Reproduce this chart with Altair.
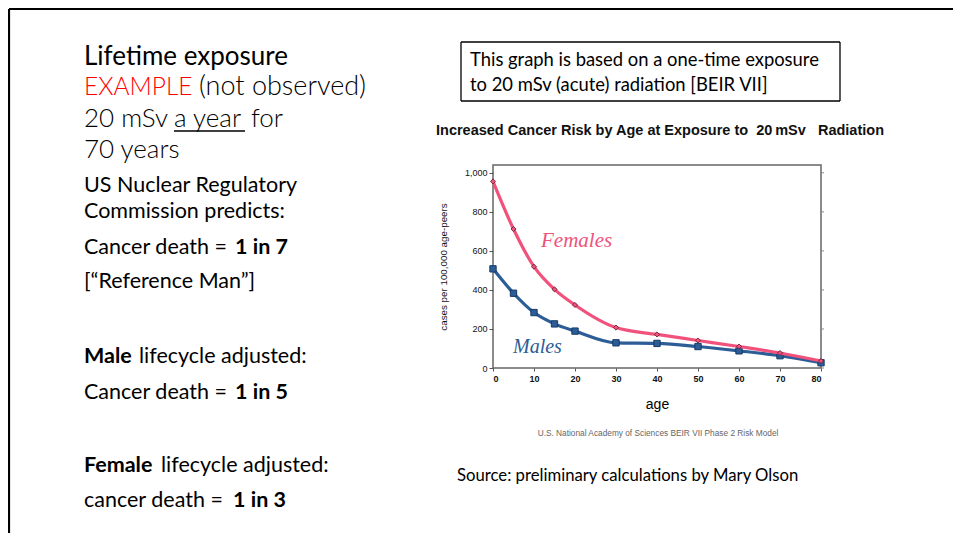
import altair as alt
import pandas as pd

# ---- data ----
ages = [0, 5, 10, 15, 20, 30, 40, 50, 60, 70, 80]
females = [956, 712, 519, 403, 323, 207, 172, 141, 110, 77, 36]
males = [508, 383, 284, 226, 189, 129, 126, 110, 88, 63, 27]
series_names = ["Females", "Males"]
series_colors = ["#f0527c", "#2c5d96"]
y_ticks = [0, 200, 400, 600, 800, 1000]
x_ticks = [0, 10, 20, 30, 40, 50, 60, 70, 80]

rows = []
for a, f, m in zip(ages, females, males):
    rows.append({"series": "Females", "age": a, "value": f})
    rows.append({"series": "Males", "age": a, "value": m})
df = pd.DataFrame(rows)
tick_df = pd.DataFrame({"value": y_ticks})

# plot area placement in page pixels
OX, OY = 493, 165
W, H = 328, 203


def px(X):
    return X - OX


def py(Y):
    return Y - OY


one = alt.Data(values=[{}])

yscale = alt.Scale(domain=[0, 1040], nice=False)
xs = alt.X("age:Q", scale=alt.Scale(domain=[0, 80], nice=False, zero=True),
           axis=alt.Axis(values=x_ticks, title="age", labelFontWeight="bold",
                         labelFontSize=9, labelFont="Liberation Sans",
                         titleFont="Liberation Sans", titleFontSize=14,
                         titleFontWeight="normal", titlePadding=14,
                         tickSize=3, labelPadding=3, domain=False,
                         grid=False, labelColor="#111", tickColor="#555"))
ys = alt.Y("value:Q", scale=yscale,
           axis=alt.Axis(values=y_ticks, format=",.0f", title="cases per 100,000 age-peers",
                         labelFontSize=9, labelFont="Liberation Sans",
                         titleFont="Liberation Sans", titleFontSize=9.8,
                         titleFontWeight="normal", titlePadding=16,
                         tickSize=4, labelPadding=2, domain=False, grid=False,
                         labelColor="#111", tickColor="#555", titleColor="#111"))
color = alt.Color("series:N", scale=alt.Scale(domain=series_names, range=series_colors),
                  legend=None)

base = alt.Chart(df)

male_line = base.transform_filter(alt.datum.series == "Males").mark_line(
    interpolate="monotone", strokeWidth=3.2).encode(x=xs, y=ys, color=color)
fem_line = base.transform_filter(alt.datum.series == "Females").mark_line(
    interpolate="monotone", strokeWidth=3.2).encode(x=xs, y=ys, color=color)
male_pts = base.transform_filter(alt.datum.series == "Males").mark_square(
    size=40, stroke="#163a66", strokeWidth=1, opacity=1).encode(x=xs, y=ys, color=color)
fem_pts = base.transform_filter(alt.datum.series == "Females").mark_point(
    shape="diamond", filled=True, size=26, stroke="#5a1a2c", strokeWidth=0.8,
    opacity=1).encode(x=xs, y=ys, color=color)

# right-side mirror ticks, positioned by the shared y scale
right_ticks = alt.Chart(tick_df).mark_rule(color="#888", strokeWidth=1).encode(
    y=ys, x=alt.value(W), x2=alt.value(W + 3))


def txt(s, X, Y, size, color="black", weight="normal", font="Lato", align="left",
        style="normal"):
    return alt.Chart(one).mark_text(
        align=align, baseline="alphabetic", fontSize=size, font=font,
        fontWeight=weight, color=color, fontStyle=style).encode(
        x=alt.value(px(X)), y=alt.value(py(Y)), text=alt.value(s))


BIG = 26
SM = 21.5
NB = "\u00a0"
texts = [
    txt("Lifetime exposure", 84, 65, BIG),
    txt("EXAMPLE", 84, 95, 24.5, color="#ff0000", weight=300),
    txt("(not observed)", 199, 95, 27, weight=300),
    txt("20 mSv", 84, 127, BIG, weight=300),
    txt("a year", 174, 127, BIG, weight=300),
    txt("for", 251, 127, BIG, weight=300),
    txt("70 years", 84, 158, BIG, weight=300),
    txt("US Nuclear Regulatory", 84, 192, SM),
    txt("Commission predicts:", 84, 218, SM),
    txt("Cancer death =", 84, 254, SM),
    txt("1 in 7", 235, 254, SM, weight="bold"),
    txt("[\u201cReference Man\u201d]", 84, 288, SM),
    txt("Male", 84, 363, SM, weight="bold"),
    txt("lifecycle adjusted:", 139, 363, SM),
    txt("Cancer death =", 84, 399, SM),
    txt("1 in 5", 235, 399, SM, weight="bold"),
    txt("Female", 84, 472, SM, weight="bold"),
    txt("lifecycle adjusted:", 161, 472, SM),
    txt("cancer death =", 84, 507, SM),
    txt("1 in 3", 233, 507, SM, weight="bold"),
    txt("This graph is based on a one-time exposure", 470, 66, 18.4),
    txt("to 20 mSv (acute) radiation [BEIR VII]", 470, 91, 18.4),
    txt("Increased Cancer Risk by Age at Exposure to" + NB + NB + "20\u2009mSv" + NB + NB + NB + "Radiation",
        660, 135, 14.5, weight="bold", font="Liberation Sans", align="center", color="#111"),
    txt("U.S. National Academy of Sciences BEIR VII Phase 2 Risk Model", 658, 436, 8.3,
        font="Liberation Sans", align="center", color="#666"),
    txt("Source: preliminary calculations by Mary Olson", 457, 481, 16.7),
    txt("Females", 541, 247, 21, color="#f0527c", font="Liberation Serif", style="italic"),
    txt("Males", 513, 353, 20, color="#2c5d96", font="Liberation Serif", style="italic"),
]


def rule(X1, Y1, X2, Y2, w, c="black"):
    return alt.Chart(one).mark_rule(strokeWidth=w, color=c).encode(
        x=alt.value(px(X1)), x2=alt.value(px(X2)), y=alt.value(py(Y1)), y2=alt.value(py(Y2)))


rules = [
    rule(174, 131, 245, 131, 1.5),           # underline "a year"
    rule(9, 9, 953, 9, 2.2),                 # slide border top
    rule(9, 9, 9, 540, 2.2),                 # slide border left
    rule(461, 42, 840, 42, 1.3),             # note box
    rule(461, 101, 840, 101, 1.3),
    rule(461, 42, 461, 101, 1.3),
    rule(840, 42, 840, 101, 1.3),
]

chart = alt.layer(
    male_line, male_pts, fem_line, fem_pts, right_ticks, *texts, *rules
).properties(
    width=W, height=H,
    autosize=alt.AutoSizeParams(type="none"),
    padding={"left": OX - 8, "top": OY - 8, "right": 945 - (OX - 8) - W,
             "bottom": 525 - (OY - 8) - H},
    background="white",
).configure_view(stroke="#666", strokeWidth=1.5)

chart.save("out.html", embed_options={"renderer": "svg", "actions": False})
